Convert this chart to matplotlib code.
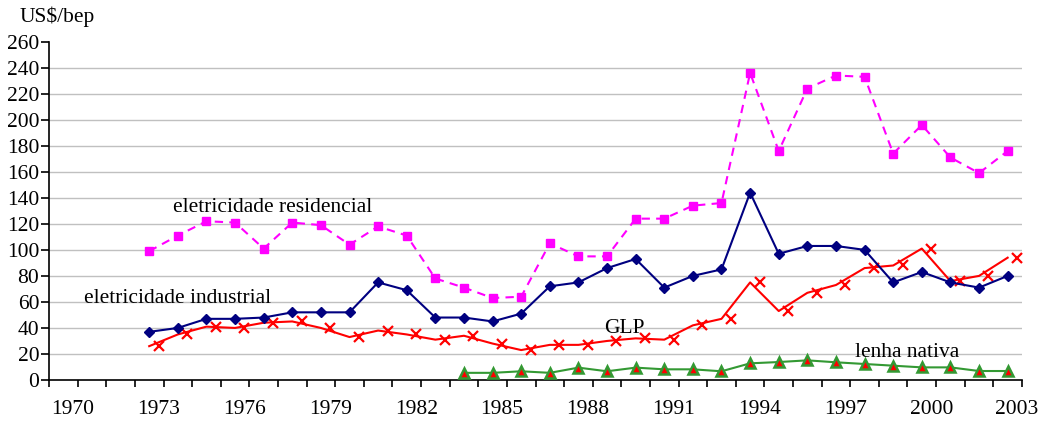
import matplotlib
matplotlib.use('Agg')
import matplotlib.pyplot as plt

plt.rcParams['font.family'] = ['Liberation Serif', 'DejaVu Serif']

years_all = list(range(1970, 2004))
years = list(range(1973, 2004))
years_lenha = list(range(1984, 2004))

ind = [37, 40, 47, 47, 48, 52, 52, 52, 75, 69, 48, 48, 45, 51, 72, 75,
       86, 93, 71, 80, 85, 144, 97, 103, 103, 100, 75, 83, 75, 71, 80]
res = [99, 111, 122, 121, 101, 121, 119, 104, 118, 111, 78, 71, 63, 64,
       105, 95, 95, 124, 124, 134, 136, 236, 176, 224, 234, 233, 174, 196,
       171, 159, 176]
glp = [26, 35, 41, 40, 44, 45, 40, 33, 38, 35, 31, 34, 28, 23, 27, 27,
       30, 32, 31, 42, 47, 75, 53, 67, 73, 86, 88, 101, 76, 80, 94]
lenha = [5.5, 5.5, 6.7, 5.5, 9.5, 6.7, 9.5, 8.2, 8.2, 6.7, 12.8, 13.8,
         15.1, 13.6, 12.3, 11, 9.7, 9.7, 6.9, 6.9]

tick_years = list(range(1970, 2004, 3))

fs = 15.5

fig = plt.figure(figsize=(10.39, 4.21), dpi=100)
ax = fig.add_axes([0.0472, 0.0974, 0.9364, 0.8036])

for v in range(20, 260, 20):
    ax.axhline(v, color='#c0c0c0', lw=1, zorder=0)

ax.plot(years, res, color='#ff00ff', lw=1.5, ls=(0, (4, 3)),
        marker='s', ms=6, mec='#ff00ff', mfc='#ff00ff', zorder=3)
ax.plot(years, ind, color='#000080', lw=1.5, marker='D', ms=5.5,
        mfc='#000080', mec='#000080', zorder=4)
# GLP: line and its markers are drawn slightly apart
ax.plot(years, glp, color='#ff0000', lw=1.5, zorder=3)
ax.plot([y + 0.33 for y in years], glp, ls='none', marker='x', ms=7,
        mew=1.6, color='#ff0000', zorder=3)
ax.plot(years_lenha, lenha, color='#339933', lw=1.5, marker='^', ms=6.5,
        mfc='#ff0000', mec='#339933', mew=1.8, zorder=3)

ax.text(1977.3, 132.5, 'eletricidade residencial', fontsize=fs,
        ha='center', va='center')
ax.text(1974.0, 63, 'eletricidade industrial', fontsize=fs,
        ha='center', va='center')
ax.text(1989.6, 39.5, 'GLP', fontsize=fs, ha='center', va='center')
ax.text(1999.5, 21.5, 'lenha nativa', fontsize=fs, ha='center', va='center')

ax.set_xlim(1969.5, 2003.5)
ax.set_ylim(0, 260)
ax.set_yticks(range(0, 261, 20))
ax.set_xticks([y + 0.33 for y in tick_years])
ax.set_xticklabels([str(y) for y in tick_years])
ax.set_xticks([y - 0.5 for y in years_all] + [2003.5], minor=True)
ax.tick_params(axis='x', which='major', length=0, pad=14.5, labelsize=fs)
ax.tick_params(axis='x', which='minor', length=5, width=1.2, direction='out')
ax.tick_params(axis='y', length=6, width=1.2, pad=1, labelsize=fs)

for s in ['top', 'right']:
    ax.spines[s].set_visible(False)
ax.spines['left'].set_linewidth(1.2)
ax.spines['bottom'].set_linewidth(1.2)

fig.text(20 / 1039, 1 - 17 / 421, 'US$/bep', fontsize=fs, ha='left',
         va='center')

fig.savefig('out.png', dpi=100)
